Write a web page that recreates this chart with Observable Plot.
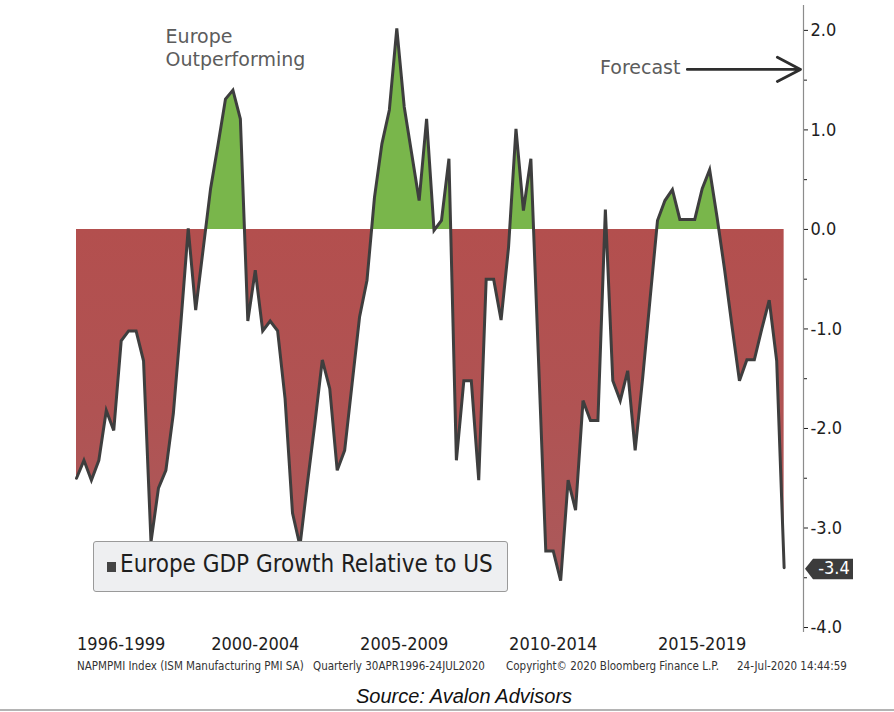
<!DOCTYPE html>
<html>
<head>
<meta charset="utf-8">
<script src="https://cdn.jsdelivr.net/npm/d3@7"></script>
<script src="https://cdn.jsdelivr.net/npm/@observablehq/plot@0.6"></script>
<style>
  body { margin: 0; background: #fff; }
  #wrap { position: relative; width: 894px; height: 712px; overflow: hidden; background: #fff;
          font-family: "DejaVu Sans Condensed", "DejaVu Sans", sans-serif; }
  #chart { position: absolute; left: 0; top: 0; }
  .legend { position: absolute; left: 93px; top: 541px; width: 413px; height: 49px;
            background: #eeeff1; border: 1px solid #9a9a9a; border-radius: 3px; }
  .legend .sw { position: absolute; left: 13px; top: 20px; width: 9px; height: 10px; background: #444; }
  .legend .lt { position: absolute; left: 26px; top: 8px; font-size: 24px; color: #1e1e1e; white-space: nowrap; }
  .foot { position: absolute; top: 659px; font-size: 11.5px; color: #333; white-space: nowrap; }
  .source { position: absolute; left: 356px; top: 685px; font-family: "Liberation Sans", Arial, sans-serif;
            font-style: italic; font-size: 20px; color: #111; white-space: nowrap; }
  .bottomline { position: absolute; left: 0; top: 709px; width: 894px; height: 2px; background: #b4b4b4; }
</style>
</head>
<body>
<div id="wrap">
  <div id="chart"></div>
  <div class="legend"><div class="sw"></div><div class="lt">Europe GDP Growth Relative to US</div></div>
  <div class="foot" style="left:77px">NAPMPMI Index (ISM Manufacturing PMI SA)</div>
  <div class="foot" style="left:313px">Quarterly 30APR1996-24JUL2020</div>
  <div class="foot" style="left:506px">Copyright© 2020 Bloomberg Finance L.P.</div>
  <div class="foot" style="left:737px">24-Jul-2020 14:44:59</div>
  <div class="source">Source: Avalon Advisors</div>
  <div class="bottomline"></div>
</div>
<script>
// Europe GDP growth relative to US, quarterly, from mid-1996
const values = [
  -2.50, -2.32, -2.52, -2.32, -1.82, -2.02, -1.12, -1.02, -1.02, -1.32,
  -3.14, -2.60, -2.42, -1.85, -0.95,  0.01, -0.81, -0.20,  0.41,  0.85,
   1.31,  1.40,  1.11, -0.92, -0.41, -1.02, -0.92, -1.02, -1.70, -2.85,
  -3.18, -2.55, -1.95, -1.31, -1.60, -2.42, -2.22, -1.55, -0.88, -0.51,
   0.32,  0.86,  1.20,  2.02,  1.23,  0.76,  0.29,  1.11, -0.01,  0.09,
   0.71, -2.32, -1.52, -1.52, -2.52, -0.50, -0.50, -0.91, -0.18,  1.01,
   0.19,  0.71, -1.26, -3.23, -3.23, -3.53, -2.52, -2.82, -1.72, -1.92,
  -1.92,  0.20, -1.52, -1.72, -1.42, -2.22, -1.50, -0.70,  0.09,  0.29,
   0.40,  0.10,  0.10,  0.10,  0.41,  0.60,  0.12, -0.40, -0.97, -1.52,
  -1.31, -1.31, -1.00, -0.71, -1.32, -3.40
];
const startYear = 1996.5;            // first quarterly observation (mid-1996)
const quarters = values.map((_, i) => startYear + i / 4);

const periodLabels  = ["1996-1999", "2000-2004", "2005-2009", "2010-2014", "2015-2019"];
const periodCenters = [1998, 2002.5, 2007.5, 2012.5, 2017.5];

const majorTicks = [2, 1, 0, -1, -2, -3, -4];
const minorTicks = [1.5, 0.5, -0.5, -1.5, -2.5, -3.5];

const annotEurope = ["Europe\nOutperforming"];
const annotForecast = ["Forecast"];

const series = values.map((v, i) => ({t: quarters[i], v}));
const xMax = 2020.9;
const lastValue = values[values.length - 1];

const plot = Plot.plot({
  width: 894,
  height: 658,
  marginLeft: 76,
  marginRight: 91,
  marginTop: 5,
  marginBottom: 26,
  x: {domain: [startYear, xMax], label: null},
  y: {domain: [-4.05, 2.25], label: null},
  style: {fontFamily: '"DejaVu Sans Condensed", "DejaVu Sans", sans-serif', fontSize: "18px", color: "#1e1e1e", background: "transparent", overflow: "visible"},
  marks: [
    Plot.areaY(series, {x: "t", y: "v", fill: "url(#posneg)"}),
    Plot.line(series, {x: "t", y: "v", stroke: "#3e3e3e", strokeWidth: 3, strokeLinejoin: "miter", strokeMiterlimit: 4}),
    Plot.ruleX([xMax], {stroke: "#8c8c8c", strokeWidth: 1.2}),
    Plot.axisY({anchor: "right", ticks: majorTicks, tickSize: 4, tickPadding: 3, tickFormat: d => d.toFixed(1), label: null, fontSize: 18}),
    Plot.axisY({anchor: "right", ticks: minorTicks, tickSize: 3, tickFormat: () => "", label: null}),
    Plot.axisX({ticks: periodCenters, tickFormat: d => periodLabels[periodCenters.indexOf(d)], tickSize: 0, tickPadding: 5, label: null, fontSize: 18}),
    Plot.text(annotEurope, {x: 1999.49, y: 1.835, textAnchor: "start", lineAnchor: "middle", lineHeight: 1.21,
      fontFamily: '"DejaVu Sans", sans-serif', fontSize: 19, fill: "#5c5c5c"}),
    Plot.text(annotForecast, {x: 2016.77, y: 1.62, textAnchor: "end", lineAnchor: "middle",
      fontFamily: '"DejaVu Sans", sans-serif', fontSize: 19, fill: "#5c5c5c"}),
    Plot.arrow([0], {x1: 2017.0, x2: 2020.8, y1: 1.608, y2: 1.608, stroke: "#2e2e2e", strokeWidth: 2.8, headLength: 14, headAngle: 55})
  ]
});

const svg = plot.tagName.toLowerCase() === "svg" ? plot : plot.querySelector("svg");
document.getElementById("chart").appendChild(plot);

// gradient: green above zero, red below zero (positions from the y scale)
const ns = "http://www.w3.org/2000/svg";
const yS = plot.scale("y"), xS = plot.scale("x");
const yTop = yS.apply(2.25), yBot = yS.apply(-4.05), y0 = yS.apply(0);
const z = (y0 - yTop) / (yBot - yTop);
const defs = document.createElementNS(ns, "defs");
defs.innerHTML = `<linearGradient id="posneg" gradientUnits="userSpaceOnUse" x1="0" x2="0" y1="${yTop}" y2="${yBot}">
  <stop offset="0" stop-color="#79b64b"/>
  <stop offset="${z}" stop-color="#79b64b"/>
  <stop offset="${z}" stop-color="#b34f4e"/>
  <stop offset="${z + (1 - z) * 0.45}" stop-color="#b05353"/>
  <stop offset="1" stop-color="#a95b5d"/>
</linearGradient>`;
svg.insertBefore(defs, svg.firstChild);

// last-value tag on the right axis
const ax = xS.apply(xMax);
const yy = yS.apply(lastValue) + 1.5;
const tag = document.createElementNS(ns, "g");
const p = document.createElementNS(ns, "path");
p.setAttribute("d", `M${ax + 2},${yy} L${ax + 10},${yy - 10} L${ax + 50},${yy - 10} L${ax + 50},${yy + 10.5} L${ax + 10},${yy + 10.5} Z`);
p.setAttribute("fill", "#3c3c3c");
tag.appendChild(p);
const t = document.createElementNS(ns, "text");
t.setAttribute("x", ax + 31);
t.setAttribute("y", yy + 0.5);
t.setAttribute("text-anchor", "middle");
t.setAttribute("dominant-baseline", "middle");
t.setAttribute("fill", "#ffffff");
t.setAttribute("font-size", "18");
t.textContent = lastValue.toFixed(1);
tag.appendChild(t);
svg.appendChild(tag);
</script>
</body>
</html>
